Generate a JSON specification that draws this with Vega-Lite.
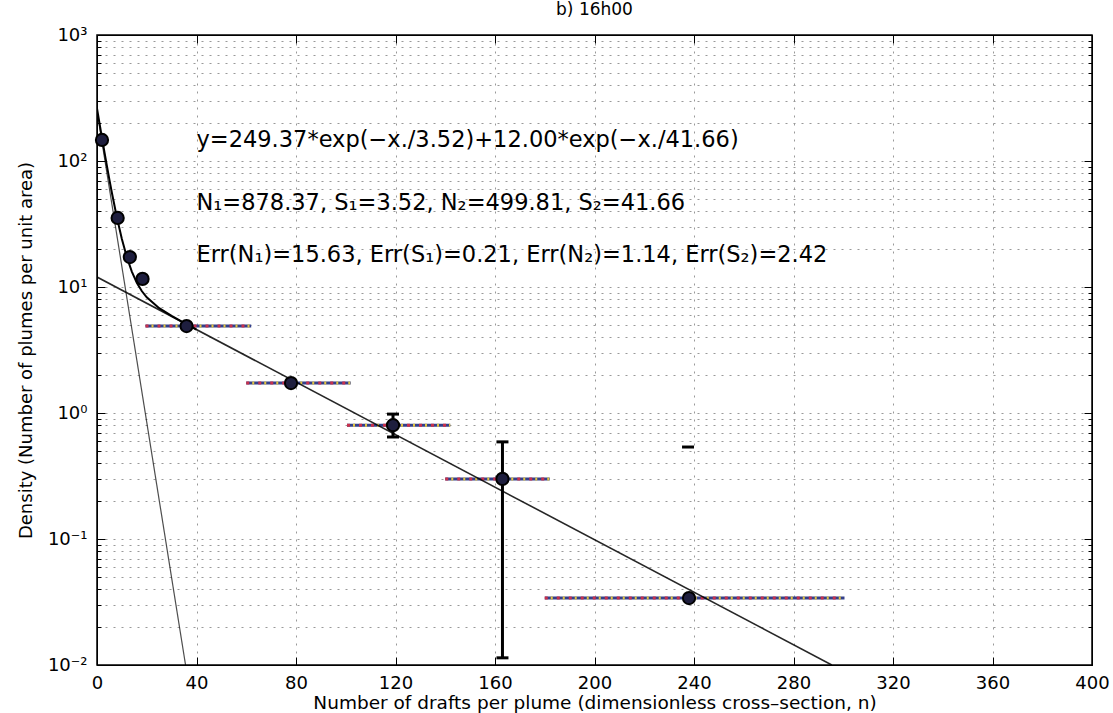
{
  "$schema": "https://vega.github.io/schema/vega-lite/v6.json",
  "width": 995,
  "height": 630,
  "autosize": "none",
  "padding": {"left": 97, "top": 35, "right": 21, "bottom": 48},
  "background": "white",
  "config": {
    "font": "DejaVu Sans",
    "view": {"stroke": "black", "strokeWidth": 1.5},
    "title": {"font": "DejaVu Sans", "fontWeight": "normal", "fontSize": 17, "color": "black"}
  },
  "title": {"text": "b) 16h00", "offset": 7},
  "datasets": {
    "points": [
      {"n": 2, "density": 147},
      {"n": 8.3, "density": 35.3},
      {"n": 13.2, "density": 17.3},
      {"n": 18.3, "density": 11.6},
      {"n": 36, "density": 4.9},
      {"n": 78, "density": 1.73},
      {"n": 119, "density": 0.8},
      {"n": 163, "density": 0.3},
      {"n": 238, "density": 0.034}
    ],
    "hbars": [
      {"n_lo": 19.5, "n_hi": 62, "density": 4.9},
      {"n_lo": 60, "n_hi": 102, "density": 1.73},
      {"n_lo": 100.5, "n_hi": 142, "density": 0.8},
      {"n_lo": 140, "n_hi": 182, "density": 0.3},
      {"n_lo": 180, "n_hi": 300.5, "density": 0.034}
    ],
    "vbars": [
      {"n": 119, "lo": 0.645, "hi": 0.98},
      {"n": 163, "lo": 0.0114, "hi": 0.59}
    ],
    "caps": [
      {"n": 119, "density": 0.98},
      {"n": 119, "density": 0.645},
      {"n": 163, "density": 0.59},
      {"n": 163, "density": 0.0114},
      {"n": 237.6, "density": 0.537}
    ],
    "fits": [
      {"series": "fast", "n": 0, "density": 249.37},
      {"series": "fast", "n": 35.6, "density": 0.01},
      {"series": "slow", "n": 0, "density": 12},
      {"series": "slow", "n": 295.4, "density": 0.01},
      {"series": "sum", "n": 0, "density": 261.4},
      {"series": "sum", "n": 1, "density": 199.4},
      {"series": "sum", "n": 2, "density": 152.7},
      {"series": "sum", "n": 3, "density": 117.5},
      {"series": "sum", "n": 4, "density": 90.95},
      {"series": "sum", "n": 5, "density": 70.9},
      {"series": "sum", "n": 6, "density": 55.7},
      {"series": "sum", "n": 8, "density": 35.6},
      {"series": "sum", "n": 10, "density": 24.0},
      {"series": "sum", "n": 12, "density": 17.25},
      {"series": "sum", "n": 14, "density": 13.25},
      {"series": "sum", "n": 16, "density": 10.82},
      {"series": "sum", "n": 18, "density": 9.29},
      {"series": "sum", "n": 20, "density": 8.28},
      {"series": "sum", "n": 25, "density": 6.79},
      {"series": "sum", "n": 30, "density": 5.89},
      {"series": "sum", "n": 35, "density": 5.19},
      {"series": "sum", "n": 40, "density": 4.59}
    ],
    "notes": [
      {"n": 40, "density": 147, "label": "y=249.37*exp(−x./3.52)+12.00*exp(−x./41.66)"},
      {"n": 40, "density": 46.4, "label": "N₁=878.37, S₁=3.52, N₂=499.81, S₂=41.66"},
      {"n": 40, "density": 17.9, "label": "Err(N₁)=15.63, Err(S₁)=0.21, Err(N₂)=1.14, Err(S₂)=2.42"}
    ]
  },
  "resolve": {"axis": {"x": "independent", "y": "independent"}},
  "layer": [
    {
      "data": {"name": "hbars"},
      "mark": {"type": "rule", "color": "#33408a", "strokeWidth": 3},
      "encoding": {
        "x": {
          "field": "n_lo", "type": "quantitative",
          "scale": {"domain": [0, 400], "nice": false},
          "axis": {
            "values": [0, 40, 80, 120, 160, 200, 240, 280, 320, 360, 400],
            "title": "Number of drafts per plume (dimensionless cross–section, n)",
            "grid": true, "gridDash": [2, 6], "gridColor": "#999999", "gridWidth": 1,
            "tickSize": -8, "tickColor": "black", "tickWidth": 1,
            "domainColor": "black",
            "labelFontSize": 18, "labelColor": "black", "labelPadding": 17, "labelFlush": false,
            "titleFontSize": 18.5, "titleFontWeight": "normal", "titleColor": "black", "titlePadding": 1
          }
        },
        "x2": {"field": "n_hi"},
        "y": {
          "field": "density", "type": "quantitative",
          "scale": {"type": "log", "domain": [0.01, 1000], "nice": false},
          "axis": {
            "values": [0.01,0.02,0.03,0.04,0.05,0.06,0.07,0.08,0.09,0.1,0.2,0.3,0.4,0.5,0.6,0.7,0.8,0.9,1,2,3,4,5,6,7,8,9,10,20,30,40,50,60,70,80,90,100,200,300,400,500,600,700,800,900,1000],
            "labelExpr": "datum.value==1000?'10³':datum.value==100?'10²':datum.value==10?'10¹':datum.value==1?'10⁰':datum.value==0.1?'10⁻¹':datum.value==0.01?'10⁻²':''",
            "labelOverlap": false,
            "title": "Density (Number of plumes per unit area)",
            "grid": true, "gridDash": [2, 6], "gridColor": "#999999", "gridWidth": 1,
            "tickSize": {"condition": {"test": "indexof([0.01,0.1,1,10,100,1000], datum.value) >= 0", "value": -8}, "value": -4},
            "tickColor": "black", "tickWidth": 1,
            "domainColor": "black",
            "labelFontSize": 18, "labelColor": "black", "labelPadding": 18,
            "titleFontSize": 18, "titleFontWeight": "normal", "titleColor": "black", "titlePadding": 12
          }
        }
      }
    },
    {
      "data": {"name": "hbars"},
      "mark": {"type": "rule", "color": "#c8304c", "strokeWidth": 3, "strokeDash": [3, 9]},
      "encoding": {
        "x": {
          "field": "n_lo", "type": "quantitative",
          "axis": {"orient": "top", "values": [0, 40, 80, 120, 160, 200, 240, 280, 320, 360, 400], "labels": false, "title": null, "grid": false, "tickSize": -8, "tickColor": "black", "domainColor": "black"}
        },
        "x2": {"field": "n_hi"},
        "y": {
          "field": "density", "type": "quantitative",
          "axis": {
            "orient": "right",
            "values": [0.01,0.02,0.03,0.04,0.05,0.06,0.07,0.08,0.09,0.1,0.2,0.3,0.4,0.5,0.6,0.7,0.8,0.9,1,2,3,4,5,6,7,8,9,10,20,30,40,50,60,70,80,90,100,200,300,400,500,600,700,800,900,1000],
            "labels": false, "title": null, "grid": false,
            "tickSize": {"condition": {"test": "indexof([0.01,0.1,1,10,100,1000], datum.value) >= 0", "value": -8}, "value": -4},
            "tickColor": "black", "domainColor": "black"
          }
        }
      }
    },
    {
      "data": {"name": "hbars"},
      "mark": {"type": "rule", "color": "#e2c440", "strokeWidth": 3, "strokeDash": [2, 10], "strokeDashOffset": 6},
      "encoding": {
        "x": {"field": "n_lo", "type": "quantitative", "axis": null},
        "x2": {"field": "n_hi"},
        "y": {"field": "density", "type": "quantitative", "axis": null}
      }
    },
    {
      "data": {"name": "fits"},
      "mark": {"type": "line", "color": "black", "clip": true},
      "encoding": {
        "x": {"field": "n", "type": "quantitative", "axis": null},
        "y": {"field": "density", "type": "quantitative", "axis": null},
        "detail": {"field": "series"},
        "strokeWidth": {"field": "series", "type": "nominal", "scale": {"domain": ["fast", "slow", "sum"], "range": [1.2, 2, 1]}, "legend": null},
        "opacity": {"field": "series", "type": "nominal", "scale": {"domain": ["fast", "slow", "sum"], "range": [0.7, 1, 0.6]}, "legend": null}
      }
    },
    {
      "data": {"name": "vbars"},
      "mark": {"type": "rule", "color": "black", "strokeWidth": 3},
      "encoding": {
        "x": {"field": "n", "type": "quantitative", "axis": null},
        "y": {"field": "lo", "type": "quantitative", "axis": null},
        "y2": {"field": "hi"}
      }
    },
    {
      "data": {"name": "caps"},
      "mark": {"type": "tick", "orient": "horizontal", "color": "black", "size": 12, "thickness": 3, "opacity": 1},
      "encoding": {
        "x": {"field": "n", "type": "quantitative", "axis": null},
        "y": {"field": "density", "type": "quantitative", "axis": null}
      }
    },
    {
      "data": {"name": "points"},
      "mark": {"type": "point", "shape": "circle", "filled": true, "size": 150, "color": "#1e1e3e", "stroke": "black", "strokeWidth": 2, "opacity": 1},
      "encoding": {
        "x": {"field": "n", "type": "quantitative", "axis": null},
        "y": {"field": "density", "type": "quantitative", "axis": null}
      }
    },
    {
      "data": {"name": "notes"},
      "mark": {"type": "text", "align": "left", "baseline": "middle", "fontSize": 22.5, "color": "black", "font": "DejaVu Sans"},
      "encoding": {
        "x": {"field": "n", "type": "quantitative", "axis": null},
        "y": {"field": "density", "type": "quantitative", "axis": null},
        "text": {"field": "label"}
      }
    }
  ]
}
